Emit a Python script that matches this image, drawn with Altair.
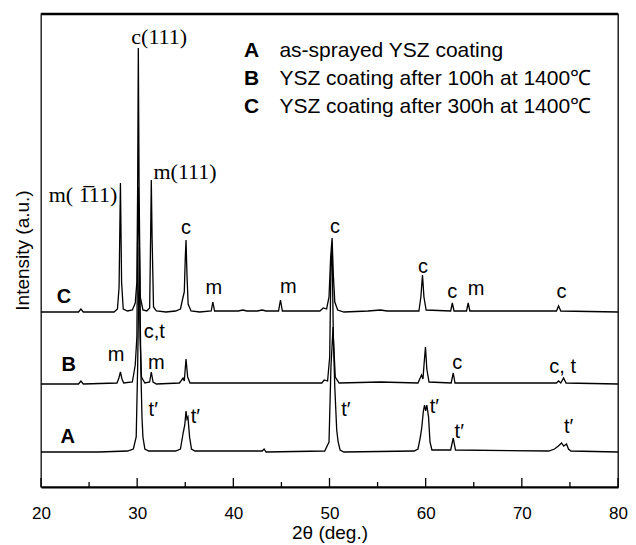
import altair as alt
import pandas as pd

# ---- XRD traces (2theta in degrees, intensity in arbitrary units) ----
tt_C = [20.0, 23.9, 24.15, 24.4, 27.6, 27.95, 28.12, 28.26, 28.38, 28.55, 29.0, 29.5, 29.8, 29.97, 30.05, 30.12, 30.2, 30.32, 30.6,
        31.0, 31.3, 31.4, 31.47, 31.55, 31.7, 32.0, 33.0, 34.0, 34.5, 34.75, 34.9, 35.0, 35.08, 35.18, 35.3, 35.6, 36.5,
        37.7, 37.87, 38.05, 40.5, 41.0, 41.4, 42.5, 43.0, 43.4, 44.7, 44.9, 45.1, 49.0, 49.35, 49.7, 49.95, 50.12, 50.27,
        50.4, 50.55, 50.85, 51.5, 54.0, 55.3, 56.0, 59.3, 59.5, 59.67, 59.82, 60.05, 62.6, 62.77, 62.95, 64.25, 64.42,
        64.6, 65.0, 73.6, 73.82, 74.05, 80.0]
I_C = [175, 175, 178, 175, 175, 178, 200, 304, 205, 178, 176, 177, 184, 205, 300, 439, 300, 190, 177,
       176, 179, 250, 307, 250, 180, 176, 175, 176, 178, 189, 195, 228, 247, 212, 183, 176, 175,
       176, 185, 176, 176, 177, 176, 176, 177, 176, 176, 187, 176, 176, 179, 178, 190, 230, 249,
       212, 185, 177, 175, 176, 177, 176, 176, 190, 212, 190, 177, 176, 184, 176, 176, 184,
       176, 176, 176, 181, 176, 175]

tt_B = [20.0, 23.9, 24.15, 24.4, 27.9, 28.1, 28.26, 28.42, 28.6, 29.5, 29.8, 29.97, 30.05, 30.12, 30.2, 30.3, 30.45,
        30.8, 31.3, 31.47, 31.65, 32.0, 34.4, 34.77, 34.9, 35.08, 35.25, 35.5, 38.0, 43.0, 49.2, 49.45, 49.8, 50.02,
        50.15, 50.27, 50.4, 50.6, 51.0, 55.3, 59.2, 59.57, 59.72, 59.85, 59.98, 60.12, 60.35, 62.65, 62.87, 63.05,
        73.6, 73.82, 74.05, 74.34, 74.6, 80.0]
I_B = [103, 103, 106, 103, 104, 109, 115, 108, 104, 105, 122, 150, 250, 300, 250, 150, 110,
       104, 105, 115, 105, 103, 104, 109, 106, 128, 110, 104, 104, 104, 104, 107, 106, 130,
       220, 240, 150, 110, 104, 105, 104, 112, 108, 125, 140, 118, 105, 104, 114, 104,
       104, 106, 104, 109, 104, 103]

tt_A = [20.0, 26.0, 29.0, 29.6, 29.9, 30.05, 30.23, 30.38, 30.5, 30.6, 30.8, 31.2, 34.0, 34.5, 34.8, 34.95, 35.08,
        35.18, 35.28, 35.45, 35.65, 36.0, 43.0, 43.2, 43.4, 49.5, 49.95, 50.15, 50.37, 50.55, 50.75, 50.9, 51.1, 51.5,
        58.8, 59.2, 59.45, 59.6, 59.75, 59.88, 60.0, 60.12, 60.3, 60.45, 60.65, 62.6, 62.87, 63.1, 72.8, 73.4, 73.8,
        74.13, 74.35, 74.65, 74.85, 75.1, 80.0]
I_A = [35, 35, 36, 38, 50, 120, 240, 120, 70, 50, 38, 36, 36, 38, 55, 62, 76,
       68, 70, 50, 38, 36, 36, 38, 35, 36, 45, 120, 160, 100, 57, 45, 37, 35,
       36, 38, 50, 60, 75, 82, 76, 82, 70, 45, 37, 37, 49, 37, 36, 38, 41,
       44, 41, 43, 38, 36, 35]

# ---- annotations ----
ann_text = ["C", "B", "A"]
ann_tt = [22.38, 22.89, 22.79]
ann_I = [190, 122, 50]

serif_text = ["c(111)", "m( 1\u0305" + "11)", "m(111)"]
serif_tt = [32.29, 24.37, 34.98]
serif_I = [450, 292, 315]

lab_text = ["c", "m", "m", "c", "c", "c", "m", "c",
            "m", "c,t", "m", "c", "c, t",
            "t\u2032", "t\u2032", "t\u2032", "t\u2032", "t\u2032", "t\u2032"]
lab_tt = [35.08, 37.98, 45.72, 50.58, 59.72, 62.77, 65.25, 74.13,
          27.8, 31.78, 31.98, 63.29, 74.24,
          31.67, 36.06, 51.71, 60.91, 63.49, 74.86]
lab_I = [259, 199, 200, 260, 220, 195, 198, 195,
         132, 155, 124, 124, 120,
         77, 70, 77, 80, 55, 60]

leg_key = ["A", "B", "C"]
leg_text = ["as-sprayed YSZ coating", "YSZ coating after 100h at 1400\u2103", "YSZ coating after 300h at 1400\u2103"]
leg_I = [436, 408, 380]

major_ticks = [20, 30, 40, 50, 60, 70, 80]
minor_ticks = [25, 35, 45, 55, 65, 75]

W, H = 577, 473
SANS = "Liberation Sans"
SERIF = "Liberation Serif"

rows = []
for name, xs, ys in (("A", tt_A, I_A), ("B", tt_B, I_B), ("C", tt_C, I_C)):
    for x, y in zip(xs, ys):
        rows.append({"series": name, "tt": x, "I": y})
df = pd.DataFrame(rows)

xs = alt.Scale(domain=[20, 80], nice=False, zero=False)
ys = alt.Scale(domain=[0, H], nice=False, zero=False)

lines = alt.Chart(df).mark_line(color="black", strokeWidth=1.3, clip=True).encode(
    x=alt.X("tt:Q", scale=xs,
            axis=alt.Axis(values=major_ticks, format="d", title="2θ (deg.)", ticks=False, tickSize=0,
                          labelFontSize=17, labelFont=SANS, labelPadding=18, labelColor="black",
                          labelFlush=False,
                          domainColor="black", domainWidth=2, grid=False,
                          titleFont=SANS, titleFontSize=19, titleFontWeight="normal", titleColor="black",
                          titleY=45, titleBaseline="middle")),
    y=alt.Y("I:Q", scale=ys,
            axis=alt.Axis(labels=False, ticks=False, grid=False, domainColor="#333333", domainWidth=1,
                          title="Intensity (a.u.)", titleFont=SANS, titleFontSize=19,
                          titleFontWeight="normal", titleColor="black", titleAngle=270,
                          titleX=-19, titleY=236, titleBaseline="middle", titleAlign="center")),
    detail="series:N",
)

tick_major = alt.Chart(pd.DataFrame({"t": major_ticks})).mark_rule(color="black", strokeWidth=1.3).encode(
    x=alt.X("t:Q", scale=xs), y=alt.value(H), y2=alt.value(H - 9))
tick_minor = alt.Chart(pd.DataFrame({"t": minor_ticks})).mark_rule(color="black", strokeWidth=1.3).encode(
    x=alt.X("t:Q", scale=xs), y=alt.value(H), y2=alt.value(H - 5))

top_border = alt.Chart(pd.DataFrame({"k": [0]})).mark_rule(color="black", strokeWidth=2.5).encode(
    x=alt.value(0), x2=alt.value(W), y=alt.value(0))

ann = alt.Chart(pd.DataFrame({"t": ann_text, "tt": ann_tt, "I": ann_I})).mark_text(
    font=SANS, fontSize=20, fontWeight="bold", baseline="middle", align="center", color="black").encode(
    x=alt.X("tt:Q", scale=xs), y=alt.Y("I:Q", scale=ys), text="t:N")

serif = alt.Chart(pd.DataFrame({"t": serif_text, "tt": serif_tt, "I": serif_I})).mark_text(
    font=SERIF, fontSize=22, baseline="middle", align="center", color="black").encode(
    x=alt.X("tt:Q", scale=xs), y=alt.Y("I:Q", scale=ys), text="t:N")

labs = alt.Chart(pd.DataFrame({"t": lab_text, "tt": lab_tt, "I": lab_I})).mark_text(
    font=SANS, fontSize=20, baseline="middle", align="center", color="black").encode(
    x=alt.X("tt:Q", scale=xs), y=alt.Y("I:Q", scale=ys), text="t:N")

leg_df = pd.DataFrame({"k": leg_key, "t": leg_text, "I": leg_I, "kx": [41.9] * 3, "tx": [44.79] * 3})
leg_k = alt.Chart(leg_df).mark_text(font=SANS, fontSize=21, fontWeight="bold", baseline="middle",
                                    align="center", color="black").encode(
    x=alt.X("kx:Q", scale=xs), y=alt.Y("I:Q", scale=ys), text="k:N")
leg_t = alt.Chart(leg_df).mark_text(font=SANS, fontSize=21, baseline="middle", align="left",
                                    color="black").encode(
    x=alt.X("tx:Q", scale=xs), y=alt.Y("I:Q", scale=ys), text="t:N")

chart = alt.layer(lines, tick_major, tick_minor, top_border, ann, serif, labs, leg_k, leg_t).properties(
    width=W, height=H,
    autosize=alt.AutoSizeParams(type="none"),
    padding={"left": 33, "top": 6, "right": 10, "bottom": 57},
    background="white",
).configure_view(stroke="black", strokeWidth=1.3)

chart.save("out.html", embed_options={"renderer": "svg", "actions": False})
